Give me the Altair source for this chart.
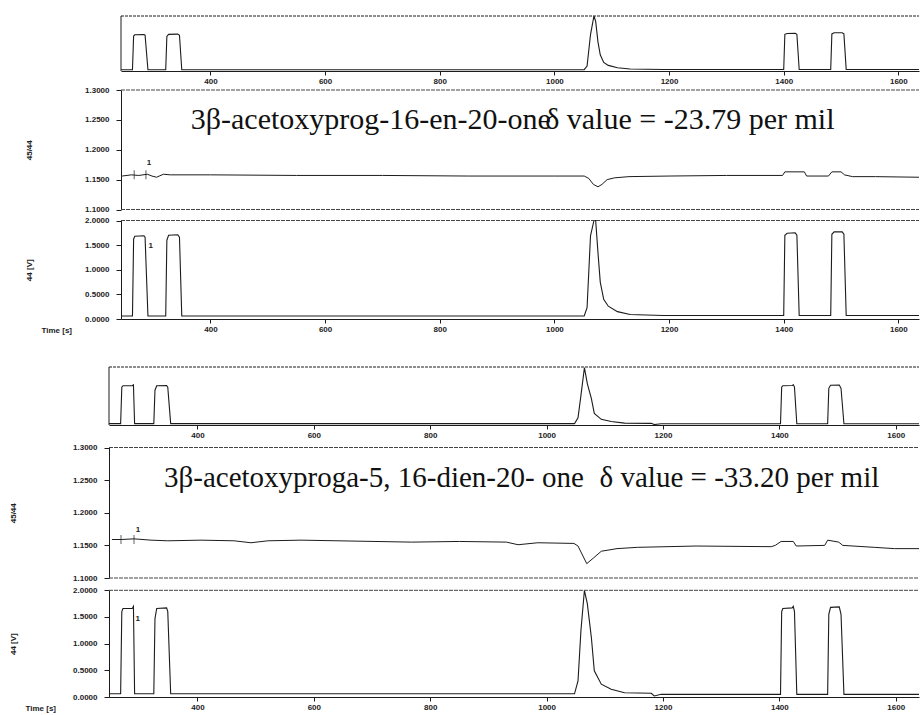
import altair as alt
import pandas as pd

# ---------------- data ----------------
TIME_TICKS = [400, 600, 800, 1000, 1200, 1400, 1600]
RATIO_TICKS = [1.10, 1.15, 1.20, 1.25, 1.30]
VOLT_TICKS = [0.0, 0.5, 1.0, 1.5, 2.0]

# Group 1 : 3β-acetoxyprog-16-en-20-one
g1_t44 = [244, 264, 266, 268, 284, 286, 291, 322, 324, 327, 343, 346, 350,
          1052, 1057, 1063, 1069, 1072, 1076, 1080, 1086, 1094, 1110, 1132, 1190,
          1400, 1402, 1406, 1420, 1423, 1427, 1482, 1484, 1488, 1502, 1505, 1509, 1636]
g1_v44 = [0.06, 0.06, 1.62, 1.68, 1.69, 1.66, 0.06, 0.06, 1.60, 1.70, 1.71, 1.66, 0.06,
          0.06, 0.23, 1.69, 2.55, 2.30, 1.35, 0.75, 0.40, 0.26, 0.15, 0.09, 0.07,
          0.07, 1.70, 1.74, 1.75, 1.70, 0.07, 0.07, 1.72, 1.77, 1.77, 1.72, 0.07, 0.07]
g1_tr = [246, 262, 275, 290, 298, 306, 318, 330, 400, 550,
         700, 850, 1000, 1052, 1060, 1068, 1076, 1083, 1092, 1105,
         1130, 1200, 1300, 1398, 1402, 1436, 1440, 1478, 1484, 1500,
         1506, 1520, 1560, 1636]
g1_vr = [1.156, 1.158, 1.157, 1.159, 1.156, 1.154, 1.159, 1.158, 1.158, 1.157,
         1.157, 1.156, 1.156, 1.156, 1.152, 1.142, 1.138, 1.142, 1.150, 1.153,
         1.155, 1.156, 1.157, 1.157, 1.163, 1.163, 1.156, 1.156, 1.163, 1.163,
         1.158, 1.155, 1.155, 1.154]
g1_mark_t = [267, 287.5]
g1_mark_v = [1.158, 1.158]
g1_label = ["3β-acetoxyprog-16-en-20-one", "δ value = -23.79 per mil"]

# Group 2 : 3β-acetoxyproga-5, 16-dien-20-one
g2_t44 = [248, 268, 270, 272, 288, 290, 292, 325, 327, 330, 347, 349, 354,
          1048, 1054, 1059, 1065, 1070, 1077, 1082, 1094, 1111, 1134, 1180, 1185, 1197,
          1402, 1404, 1406, 1422, 1424, 1426, 1430, 1483, 1485, 1488, 1503, 1506, 1511, 1640]
g2_v44 = [0.06, 0.06, 1.60, 1.66, 1.66, 1.70, 0.06, 0.06, 1.47, 1.66, 1.67, 1.60, 0.06,
          0.06, 0.30, 1.24, 2.42, 1.75, 1.11, 0.49, 0.24, 0.145, 0.08, 0.07, 0.02, 0.05,
          0.05, 1.60, 1.66, 1.67, 1.70, 1.60, 0.05, 0.05, 1.55, 1.68, 1.69, 1.55, 0.05, 0.05]
g2_tr = [253, 269, 291, 320, 349, 406, 463, 492, 521, 578,
         768, 850, 931, 951, 985, 1047, 1054, 1069, 1081, 1094,
         1121, 1156, 1257, 1386, 1393, 1403, 1424, 1429, 1478, 1483,
         1502, 1509, 1563, 1598, 1640]
g2_vr = [1.159, 1.159, 1.160, 1.158, 1.157, 1.158, 1.157, 1.154, 1.157, 1.158,
         1.155, 1.156, 1.155, 1.151, 1.154, 1.153, 1.149, 1.122, 1.131, 1.141,
         1.145, 1.147, 1.149, 1.148, 1.150, 1.156, 1.156, 1.149, 1.150, 1.158,
         1.155, 1.150, 1.147, 1.145, 1.145]
g2_mark_t = [268.6, 291]
g2_mark_v = [1.159, 1.159]
g2_label = ["3β-acetoxyproga-5, 16-dien-20- one", "δ value = -33.20 per mil"]

# ---------------- styling / layout ----------------
INK = "#1c1c1c"
W = 810
SANS = "Liberation Sans, Arial, sans-serif"
SERIF = "Liberation Serif, Times New Roman, DejaVu Serif, serif"
one = pd.DataFrame({"k": [0]})


def ax(**kw):
    base = dict(labelFont=SANS, labelFontSize=8, labelFontWeight="bold", labelColor=INK,
                tickColor=INK, domainColor=INK, domainWidth=1, tickWidth=1, grid=False,
                labelOverlap=False, labelFlush=False, labelBound=False, tickCount=20,
                titleFont=SANS, titleFontSize=8, titleFontWeight="bold", titleColor=INK)
    base.update(kw)
    return alt.Axis(**base)


def xscale(g):
    return alt.Scale(domain=g["xdom"], range=g["xrng"], nice=False, zero=False)


def top_tile(g, t, v, ymax, yrng, h):
    ys = alt.Scale(domain=[0, ymax], range=yrng, nice=False, zero=False)
    df = pd.DataFrame({"t": t, "v": v})
    line = alt.Chart(df).mark_line(color=INK, strokeWidth=1.1, clip=True).encode(
        x=alt.X("t:Q", scale=xscale(g),
                axis=ax(values=TIME_TICKS, format="d", title=None, tickSize=4, labelPadding=2)),
        y=alt.Y("v:Q", scale=ys, axis=None))
    top = alt.Chart(one).mark_rule(color=INK, strokeWidth=1, strokeDash=[3, 1]).encode(
        x=alt.datum(g["xdom"][0]), x2=alt.datum(g["xdom"][1]), y=alt.datum(ymax))
    left = alt.Chart(one).mark_rule(color=INK, strokeWidth=1).encode(
        x=alt.datum(g["xdom"][0]), y=alt.datum(0), y2=alt.datum(ymax))
    return alt.layer(line, top, left).properties(width=W, height=h)


def ratio_tile(g, t, v, yrng, h, mt, mv, label, lab):
    ys = alt.Scale(domain=[1.1, 1.3], range=yrng, nice=False, zero=False)
    df = pd.DataFrame({"t": t, "v": v})
    line = alt.Chart(df).mark_line(color=INK, strokeWidth=1, clip=True).encode(
        x=alt.X("t:Q", scale=xscale(g), axis=None),
        y=alt.Y("v:Q", scale=ys,
                axis=ax(values=RATIO_TICKS, format=".4f", title="45/44", offset=g["yoff"],
                        tickSize=5, labelPadding=7, titleX=g["ytx"])))
    rules = alt.Chart(pd.DataFrame({"t": [g["xdom"][0]] * 2, "t2": [g["xdom"][1]] * 2,
                                    "v": [1.1, 1.3]})).mark_rule(
        color="#444", strokeWidth=1, strokeDash=[4, 1]).encode(
        x="t:Q", x2="t2:Q", y="v:Q")
    marks = alt.Chart(pd.DataFrame({"t": mt, "v": mv})).mark_tick(
        orient="vertical", size=9, thickness=1, color=INK).encode(x="t:Q", y="v:Q")
    num = alt.Chart(one).mark_text(text="1", font=SANS, fontSize=8, fontWeight="bold",
                                   color=INK).encode(
        x=alt.datum(lab["one_t"]), y=alt.datum(lab["one_v"]))
    ta = alt.Chart(one).mark_text(text=label[0], font=SERIF, fontSize=lab["fa"], align="left",
                                  baseline="alphabetic", color="#111").encode(
        x=alt.datum(lab["ta"]), y=alt.datum(lab["tv"]))
    tb = alt.Chart(one).mark_text(text=label[1], font=SERIF, fontSize=lab["fb"], align="right",
                                  baseline="alphabetic", color="#111").encode(
        x=alt.datum(lab["tb"]), y=alt.datum(lab["tv"]))
    return alt.layer(line, rules, marks, num, ta, tb).properties(width=W, height=h)


def volt_tile(g, t, v, yrng, h, lab):
    ys = alt.Scale(domain=[0, 2.0], range=yrng, nice=False, zero=False, clamp=True)
    df = pd.DataFrame({"t": t, "v": v})
    line = alt.Chart(df).mark_line(color=INK, strokeWidth=1.1, clip=True).encode(
        x=alt.X("t:Q", scale=xscale(g),
                axis=ax(values=TIME_TICKS, format="d", title="Time [s]", tickSize=4,
                        labelPadding=2, titleX=g["ttx"], titleY=11, titleAlign="left",
                        titleBaseline="middle")),
        y=alt.Y("v:Q", scale=ys,
                axis=ax(values=VOLT_TICKS, format=".4f", title="44 [V]", offset=g["yoff"],
                        tickSize=5, labelPadding=7, titleX=g["ytx"])))
    rules = alt.Chart(pd.DataFrame({"t": [g["xdom"][0]], "t2": [g["xdom"][1]],
                                    "v": [2.0]})).mark_rule(
        color="#444", strokeWidth=1, strokeDash=[4, 1]).encode(
        x="t:Q", x2="t2:Q", y="v:Q")
    num = alt.Chart(one).mark_text(text="1", font=SANS, fontSize=8, fontWeight="bold",
                                   color=INK).encode(
        x=alt.datum(lab["one_t"]), y=alt.datum(lab["one_v"]))
    return alt.layer(line, rules, num).properties(width=W, height=h)


G1 = dict(xdom=[244, 1636], xrng=[12, W], yoff=-12, ytx=-88, ttx=-68)
G2 = dict(xdom=[248, 1640], xrng=[0, W], yoff=0, ytx=-92, ttx=-84)

t1 = top_tile(G1, g1_t44, g1_v44, 2.55, [55, 0], 55)
m1 = ratio_tile(G1, g1_tr, g1_vr, [138.5, 19], 139, g1_mark_t, g1_mark_v, g1_label,
                dict(one_t=292.7, one_v=1.178, ta=365.7, tb=1488.6, tv=1.2347, fa=30, fb=30))
b1 = volt_tile(G1, g1_t44, g1_v44, [109, 10.5], 109, dict(one_t=296, one_v=1.48))

t2 = top_tile(G2, g2_t44, g2_v44, 2.45, [106, 48], 106)
m2 = ratio_tile(G2, g2_tr, g2_vr, [153, 22.5], 153, g2_mark_t, g2_mark_v, g2_label,
                dict(one_t=297.9, one_v=1.1736, ta=342.5, tb=1571.7, tv=1.2395, fa=29, fb=29))
b2 = volt_tile(G2, g2_t44, g2_v44, [119, 12.3], 119, dict(one_t=297.3, one_v=1.456))

chart = alt.vconcat(t1, m1, b1, t2, m2, b2, spacing=0, bounds="flush").resolve_scale(
    x="independent", y="independent").configure_view(stroke="transparent").properties(
    padding={"left": 8, "top": 15, "right": 0, "bottom": 0}, background="white")

chart.save("out.html", embed_options={"renderer": "svg", "actions": False})
